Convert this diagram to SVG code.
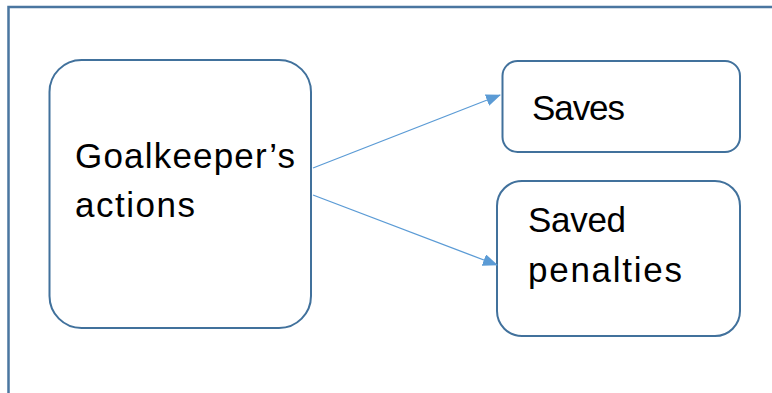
<svg xmlns="http://www.w3.org/2000/svg" width="772" height="393" viewBox="0 0 772 393">
<style>
.box{fill:#fff;stroke:#41719c;stroke-width:2}
.lbl{font-family:"Liberation Sans",Arial,sans-serif;font-size:35px;fill:#000}
.conn{stroke:#5b9bd5;stroke-width:1.3;fill:none}
</style>
<defs>
<marker id="ah" markerWidth="15" markerHeight="12" refX="14" refY="6" orient="auto" markerUnits="userSpaceOnUse">
<path d="M0,0 L15,6 L0,12 z" fill="#5b9bd5"/>
</marker>
</defs>
<path d="M8.5,393 V7 H772" fill="none" stroke="#4a76a0" stroke-width="2.5"/>
<g id="goalkeeper">
<rect class="box" x="49.5" y="60" width="261.5" height="268" rx="32"/>
<text class="lbl" x="75" y="168" textLength="220">Goalkeeper’s</text>
<text class="lbl" x="75" y="217" textLength="120">actions</text>
</g>
<g id="saves">
<rect class="box" x="502.5" y="61" width="237.5" height="91" rx="15"/>
<text class="lbl" x="532" y="120" textLength="93">Saves</text>
</g>
<g id="saved-penalties">
<rect class="box" x="497" y="181" width="243" height="155" rx="25"/>
<text class="lbl" x="528" y="232" textLength="98">Saved</text>
<text class="lbl" x="528" y="282" textLength="154">penalties</text>
</g>
<g id="connectors">
<line class="conn" x1="313" y1="168" x2="500" y2="95" marker-end="url(#ah)"/>
<line class="conn" x1="313" y1="195" x2="497" y2="265" marker-end="url(#ah)"/>
</g>
</svg>
